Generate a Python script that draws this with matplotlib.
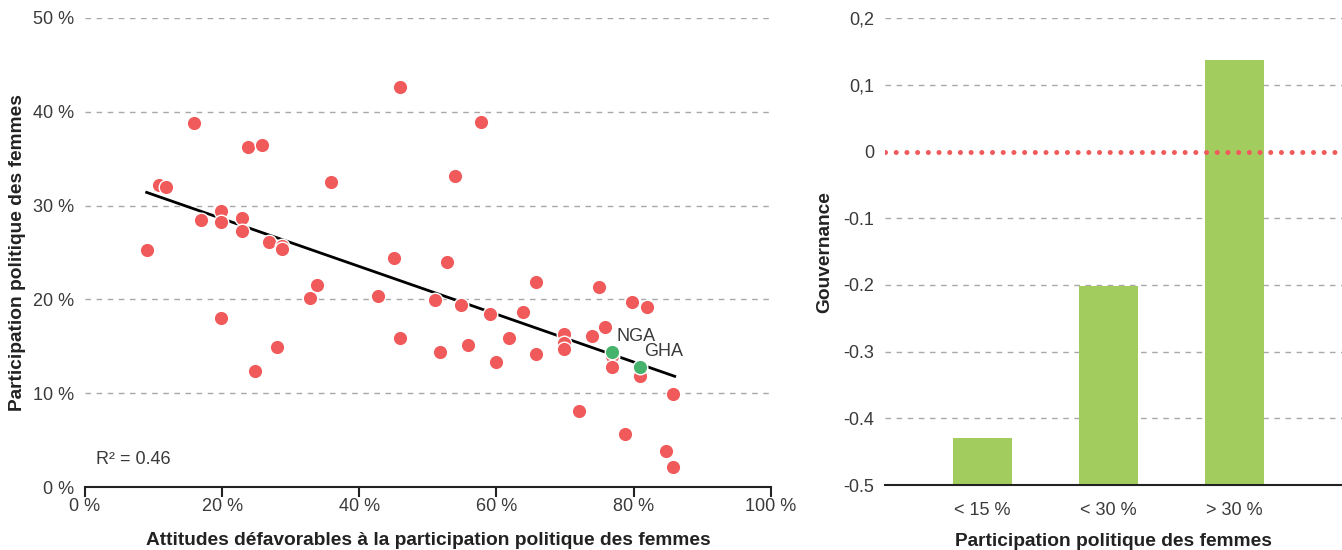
import matplotlib

matplotlib.use('Agg')
import matplotlib.pyplot as plt
import numpy as np

plt.rcParams['font.family'] = ['Liberation Sans', 'DejaVu Sans']

# attitudes défavorables (%) / participation politique (%)
attitudes = [9.0, 10.8, 11.8, 15.9, 16.9, 19.9, 19.9, 22.9, 22.9, 19.9,
             23.8, 25.8, 26.9, 28.8, 28.8, 28.0, 24.8, 32.8, 33.9, 35.9,
             42.8, 45.0, 46.0, 46.0, 51.0, 51.8, 52.8, 54.0, 54.9, 55.8,
             57.8, 59.0, 60.0, 61.9, 63.9, 65.8, 65.8, 69.8, 69.8, 69.8,
             72.0, 74.0, 74.9, 75.9, 76.9, 76.9, 78.8, 79.7, 82.0, 80.9,
             84.8, 85.8, 85.8]
participation = [25.3, 32.2, 32.0, 38.8, 28.5, 29.4, 28.2, 28.7, 27.3, 18.0,
                 36.2, 36.5, 26.1, 25.7, 25.4, 14.9, 12.4, 20.1, 21.5, 32.5,
                 20.4, 24.4, 15.9, 42.6, 19.9, 14.4, 24.0, 33.2, 19.4, 15.1,
                 38.9, 18.4, 13.3, 15.9, 18.7, 21.9, 14.2, 16.3, 15.4, 14.7,
                 8.1, 16.1, 21.3, 17.1, 14.0, 12.8, 5.7, 19.7, 19.2, 11.8,
                 3.8, 9.9, 2.1]

highlight_names = ['NGA', 'GHA']
highlight_x = [76.9, 80.9]
highlight_y = [14.4, 12.8]

# droite de tendance
trend_x = [9.0, 86.0]
trend_y = [31.4, 11.8]

categories = ['< 15 %', '< 30 %', '> 30 %']
gouvernance = [-0.43, -0.202, 0.138]

RED = '#F05A5B'
GREEN = '#45B36B'
BAR = '#A2CD5E'
GRID = '#A8A8A8'
TXT = '#3a3a3a'
FS = 13
LFS = 13.8

fig = plt.figure(figsize=(13.42, 5.5), dpi=100)

# ---- nuage de points ----
ax = fig.add_axes([0.0633, 0.1145, 0.511, 0.853])
ax.set_xlim(0, 100)
ax.set_ylim(0, 50)
for v in range(10, 51, 10):
    ax.axhline(v, color=GRID, lw=1, ls=(0, (4, 4)), zorder=0)
ax.plot(trend_x, trend_y, color='black', lw=2, zorder=2)
ax.scatter(attitudes, participation, s=110, color=RED, edgecolor='white', linewidth=1, zorder=3)
ax.scatter(highlight_x, highlight_y, s=110, color=GREEN, edgecolor='white', linewidth=1, zorder=4)
for name, x, y in zip(highlight_names, highlight_x, highlight_y):
    ax.annotate(name, (x, y), xytext=(3, 5), textcoords='offset points',
                fontsize=FS, color=TXT, va='bottom', ha='left')
ax.text(1.6, 2.5, 'R² = 0.46', fontsize=FS, color=TXT)

ax.set_xticks(range(0, 101, 20))
ax.set_xticklabels([f'{v} %' for v in range(0, 101, 20)])
ax.set_yticks(range(0, 51, 10))
ax.set_yticklabels([f'{v} %' for v in range(0, 51, 10)])
for s in ['top', 'right', 'left']:
    ax.spines[s].set_visible(False)
ax.spines['bottom'].set_color('#222222')
ax.spines['bottom'].set_linewidth(1.5)
ax.tick_params(axis='x', length=7, width=1.5, color='#222222', labelsize=FS, labelcolor=TXT, pad=1)
ax.tick_params(axis='y', length=0, labelsize=FS, labelcolor=TXT, pad=8)
ax.set_xlabel('Attitudes défavorables à la participation politique des femmes',
              fontsize=LFS, fontweight='bold', color='#222222', labelpad=12)
ax.set_ylabel('Participation politique des femmes', fontsize=LFS, fontweight='bold',
              color='#222222', labelpad=5)

# ---- barres ----
ax2 = fig.add_axes([0.6595, 0.118, 0.3405, 0.849])
ax2.set_ylim(-0.5, 0.2)
ax2.set_xlim(-0.774, 2.853)
yt = [0.2, 0.1, 0, -0.1, -0.2, -0.3, -0.4, -0.5]
ytl = ['0,2', '0,1', '0', '-0.1', '-0.2', '-0.3', '-0.4', '-0.5']
for v in yt[:-1]:
    if v != 0:
        ax2.axhline(v, color=GRID, lw=1, ls=(0, (4, 4)), zorder=0)
xpos = np.arange(len(categories))
heights = [g + 0.5 for g in gouvernance]
ax2.bar(xpos, heights, bottom=-0.5, width=0.468, color=BAR, zorder=2)
ax2.axhline(0, color=RED, lw=3.6, ls=(0, (0.01, 2.13)), dash_capstyle='round', zorder=3)
ax2.set_yticks(yt)
ax2.set_yticklabels(ytl)
ax2.set_xticks(xpos)
ax2.set_xticklabels(categories)
for s in ['top', 'right', 'left']:
    ax2.spines[s].set_visible(False)
ax2.spines['bottom'].set_color('#222222')
ax2.spines['bottom'].set_linewidth(1.5)
ax2.tick_params(axis='x', length=0, labelsize=FS, labelcolor=TXT, pad=12)
ax2.tick_params(axis='y', length=0, labelsize=FS, labelcolor=TXT, pad=8)
ax2.set_xlabel('Participation politique des femmes', fontsize=LFS, fontweight='bold',
               color='#222222', labelpad=10)
ax2.set_ylabel('Gouvernance', fontsize=LFS, fontweight='bold', color='#222222', labelpad=7)

fig.savefig('out.png', dpi=100)
